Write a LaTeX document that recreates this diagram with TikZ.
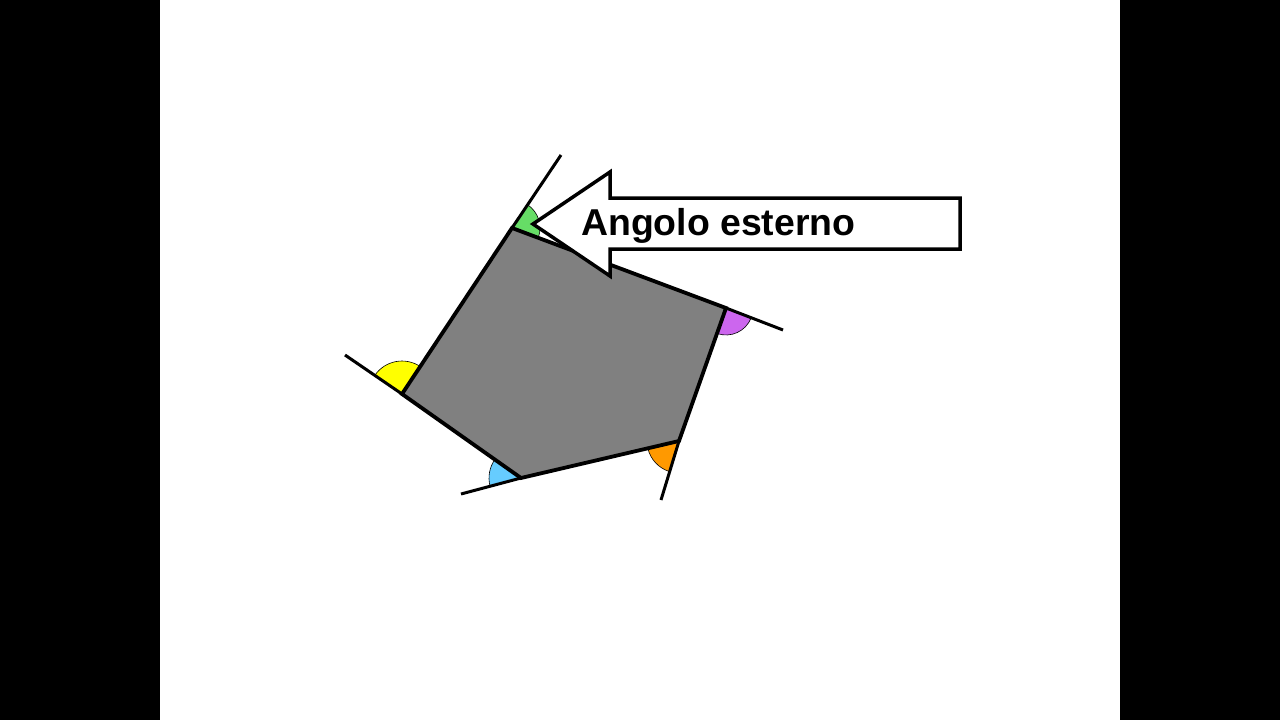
\documentclass[tikz,border=0pt]{standalone}
\usepackage{fontspec}
\setmainfont{Liberation Sans}
\usetikzlibrary{angles}
\definecolor{polygray}{RGB}{128,128,128}
\definecolor{angGreen}{RGB}{102,221,102}
\definecolor{angPurple}{RGB}{204,102,238}
\definecolor{angOrange}{RGB}{255,153,0}
\definecolor{angBlue}{RGB}{102,204,255}
\definecolor{angYellow}{RGB}{255,255,0}
\tikzset{
  edge/.style={line width=3.8pt, line join=miter},
  extline/.style={line width=3pt},
  sector/.style={draw=black, line width=0.6pt},
  callout/.style={draw=black, fill=white, line width=3.5pt, line join=miter},
  label/.style={font=\bfseries\fontsize{37.4}{40}\selectfont, inner sep=0pt, anchor=base west}
}
\begin{document}
\begin{tikzpicture}[x=1pt,y=1pt]
\useasboundingbox (0,0) rectangle (1280,-720);
\fill[black] (0,0) rectangle (1280,-720);
\fill[white] (160,0) rectangle (1120,-720);
% vertices
\coordinate (A) at (512,-228);
\coordinate (B) at (726,-308);
\coordinate (C) at (679,-441);
\coordinate (D) at (521,-478);
\coordinate (E) at (402,-394);
% extension ends
\coordinate (eA) at (561,-155);
\coordinate (eB) at (783,-330);
\coordinate (eC) at (661,-500);
\coordinate (eD) at (461,-494);
\coordinate (eE) at (345,-355);
% pentagon fill
\fill[polygray] (A) -- (B) -- (C) -- (D) -- (E) -- cycle;
% exterior angle sectors
\pic[sector, fill=angGreen, angle radius=28pt] {angle = B--A--eA};
\pic[sector, fill=angPurple, angle radius=27pt] {angle = C--B--eB};
\pic[sector, fill=angOrange, angle radius=32pt] {angle = D--C--eC};
\pic[sector, fill=angBlue, angle radius=32pt] {angle = E--D--eD};
\pic[sector, fill=angYellow, angle radius=33pt] {angle = A--E--eE};
% outline and extensions
\draw[edge] (A) -- (B) -- (C) -- (D) -- (E) -- cycle;
\draw[extline] (A) -- (eA);
\draw[extline] (B) -- (eB);
\draw[extline] (C) -- (eC);
\draw[extline] (D) -- (eD);
\draw[extline] (E) -- (eE);
% callout arrow
\coordinate (tip) at (533,-224);
\draw[callout] (tip) -- (610,-172) -- (610,-198) -- (960,-198) -- (960,-249) -- (610,-249) -- (610,-276) -- cycle;
\node[label] (lbl) at (581,-235) {Angolo esterno};
\end{tikzpicture}
\end{document}
